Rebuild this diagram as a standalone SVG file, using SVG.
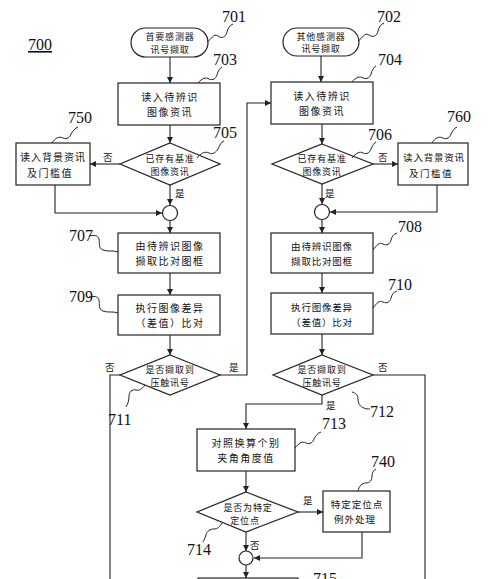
<svg xmlns="http://www.w3.org/2000/svg" width="500" height="579" viewBox="0 0 500 579">
<defs>
<marker id="ah" viewBox="0 0 8 8" refX="8" refY="4" markerWidth="6" markerHeight="6" markerUnits="userSpaceOnUse" orient="auto">
<path d="M0,0 L8,4 L0,8 z" fill="#222"/>
</marker>
<style>
.s{fill:#fff;stroke:#222;stroke-width:1.2}
.c{fill:none;stroke:#222;stroke-width:1.1}
.w{fill:none;stroke:#222;stroke-width:1}
.t{font-family:"Noto Sans CJK SC","Noto Sans CJK JP",sans-serif;font-size:10px;fill:#111;text-anchor:middle;letter-spacing:1.5px}
.d{font-family:"Noto Sans CJK SC","Noto Sans CJK JP",sans-serif;font-size:9px;fill:#111;text-anchor:middle;letter-spacing:0.8px}
.y{font-family:"Noto Sans CJK SC","Noto Sans CJK JP",sans-serif;font-size:9.5px;fill:#111}
.n{font-family:"Liberation Serif",serif;font-size:16px;fill:#111}
</style>
</defs>
<rect width="500" height="579" fill="#fff"/>
<text class="n" x="28" y="50" text-decoration="underline">700</text>

<g id="connectors">
<path class="c" d="M170,57 V83" marker-end="url(#ah)"/>
<path class="c" d="M170,125 V143" marker-end="url(#ah)"/>
<path class="c" d="M120,164 H90" marker-end="url(#ah)"/>
<path class="c" d="M55,185 V213 H162" marker-end="url(#ah)"/>
<path class="c" d="M170,185 V205" marker-end="url(#ah)"/>
<path class="c" d="M170,220 V233" marker-end="url(#ah)"/>
<path class="c" d="M170,273 V295" marker-end="url(#ah)"/>
<path class="c" d="M170,335 V355" marker-end="url(#ah)"/>
<path class="c" d="M120,375 H110 V579"/>
<path class="c" d="M220,375 H247 V103 H271" marker-end="url(#ah)"/>
<path class="c" d="M321,56 V82" marker-end="url(#ah)"/>
<path class="c" d="M322,124 V144" marker-end="url(#ah)"/>
<path class="c" d="M373,164 H398" marker-end="url(#ah)"/>
<path class="c" d="M437,185 V212 H330" marker-end="url(#ah)"/>
<path class="c" d="M322,184 V204" marker-end="url(#ah)"/>
<path class="c" d="M322,220 V233" marker-end="url(#ah)"/>
<path class="c" d="M322,273 V293" marker-end="url(#ah)"/>
<path class="c" d="M322,334 V355" marker-end="url(#ah)"/>
<path class="c" d="M373,375 H425 V579"/>
<path class="c" d="M322,395 V404 H246 V429" marker-end="url(#ah)"/>
<path class="c" d="M246,471 V492" marker-end="url(#ah)"/>
<path class="c" d="M298,512 H323" marker-end="url(#ah)"/>
<path class="c" d="M246,532 V551" marker-end="url(#ah)"/>
<path class="c" d="M362,532 V558 H254" marker-end="url(#ah)"/>
<path class="c" d="M246,565 V578" marker-end="url(#ah)"/>
<text class="y" x="103" y="161">否</text>
<text class="y" x="175" y="197">是</text>
<text class="y" x="378" y="161">否</text>
<text class="y" x="325" y="197">是</text>
<text class="y" x="105" y="371">否</text>
<text class="y" x="229" y="371">是</text>
<text class="y" x="378" y="371">否</text>
<text class="y" x="326" y="409">是</text>
<text class="y" x="303" y="504">是</text>
<text class="y" x="250" y="549">否</text>
</g>

<g id="n701">
<rect class="s" x="131" y="28" width="77" height="29" rx="14.5"/>
<text class="d" x="170" y="40">首要感测器</text>
<text class="d" x="170" y="53">讯号撷取</text>
<path class="w" d="M207,42 c5,-3 6,-9 11,-6 c4,3 8,1 9,-4 c1,-4 3,-7 6,-8"/>
<text class="n" x="222" y="22">701</text>
</g>
<g id="n702">
<rect class="s" x="283" y="28" width="76" height="28" rx="14"/>
<text class="d" x="321" y="40">其他感测器</text>
<text class="d" x="321" y="52">讯号撷取</text>
<path class="w" d="M358,41 c5,-3 6,-9 11,-6 c4,3 8,1 9,-4 c1,-4 3,-7 6,-8"/>
<text class="n" x="377" y="22">702</text>
</g>
<g id="n703">
<rect class="s" x="118" y="83" width="102" height="42"/>
<text class="t" x="170" y="101">读入待辨识</text>
<text class="t" x="170" y="116">图像资讯</text>
<path class="w" d="M198,83 c4,-5 8,-6 11,-4 c4,2 7,-1 8,-4 c1,-4 3,-7 5,-8"/>
<text class="n" x="213" y="65">703</text>
</g>
<g id="n704">
<rect class="s" x="271" y="82" width="102" height="42"/>
<text class="t" x="322" y="100">读入待辨识</text>
<text class="t" x="322" y="115">图像资讯</text>
<path class="w" d="M352,82 c4,-5 8,-6 11,-4 c4,2 7,-1 8,-4 c1,-4 3,-7 5,-8"/>
<text class="n" x="378" y="65">704</text>
</g>
<g id="n705">
<polygon class="s" points="170,143 220,164 170,185 120,164"/>
<text class="d" x="170" y="162">已存有基准</text>
<text class="d" x="170" y="175">图像资讯</text>
<path class="w" d="M197,158 c4,-5 8,-7 12,-5 c4,2 7,-1 9,-4 c2,-4 3,-7 6,-8"/>
<text class="n" x="213" y="138">705</text>
</g>
<g id="n706">
<polygon class="s" points="322,144 373,164 322,184 272,164"/>
<text class="d" x="322" y="162">已存有基准</text>
<text class="d" x="322" y="175">图像资讯</text>
<path class="w" d="M352,158 c4,-5 8,-7 11,-5 c4,2 7,-1 8,-4 c2,-4 3,-6 5,-7"/>
<text class="n" x="368" y="140">706</text>
</g>
<g id="n750">
<rect class="s" x="16" y="143" width="74" height="42"/>
<text class="t" x="53" y="161" style="letter-spacing:1px">读入背景资讯</text>
<text class="t" x="50" y="177">及门槛值</text>
<path class="w" d="M52,143 c3,-5 7,-7 11,-5 c4,2 7,-1 8,-4 c2,-3 4,-6 7,-7"/>
<text class="n" x="68" y="123">750</text>
</g>
<g id="n760">
<rect class="s" x="398" y="143" width="70" height="42"/>
<text class="t" x="434" y="161" style="font-size:9.5px;letter-spacing:0.8px">读入背景资讯</text>
<text class="t" x="431" y="177" style="font-size:9.5px">及门槛值</text>
<path class="w" d="M432,143 c3,-5 7,-7 11,-5 c4,2 7,-1 8,-4 c2,-3 3,-6 6,-7"/>
<text class="n" x="447" y="122">760</text>
</g>
<g id="j1">
<circle class="s" cx="170" cy="213" r="7.5"/>
</g>
<g id="j2">
<circle class="s" cx="322" cy="212" r="7.5"/>
</g>
<g id="n707">
<rect class="s" x="118" y="233" width="102" height="40"/>
<text class="t" x="170" y="250">由待辨识图像</text>
<text class="t" x="170" y="265">撷取比对图框</text>
<path class="w" d="M89,236 c5,-1 9,-1 10,3 c1,5 -1,9 4,11 c5,2 10,0 15,2"/>
<text class="n" x="69" y="241">707</text>
</g>
<g id="n708">
<rect class="s" x="271" y="233" width="102" height="40"/>
<text class="t" x="322" y="250" style="font-size:9.5px;letter-spacing:0.8px">由待辨识图像</text>
<text class="t" x="322" y="265" style="font-size:9.5px;letter-spacing:0.8px">撷取比对图框</text>
<path class="w" d="M373,250 c4,-5 6,-8 10,-6 c4,2 7,0 8,-4 c1,-4 3,-6 6,-7"/>
<text class="n" x="398" y="232">708</text>
</g>
<g id="n709">
<rect class="s" x="118" y="295" width="102" height="40"/>
<text class="t" x="170" y="312">执行图像差异</text>
<text class="t" x="170" y="327">（差值）比对</text>
<path class="w" d="M89,297 c5,-1 9,-1 10,3 c1,5 -1,9 4,11 c5,2 10,0 15,2"/>
<text class="n" x="69" y="302">709</text>
</g>
<g id="n710">
<rect class="s" x="271" y="293" width="102" height="41"/>
<text class="t" x="322" y="311" style="font-size:9.5px;letter-spacing:0.8px">执行图像差异</text>
<text class="t" x="322" y="326" style="font-size:9.5px;letter-spacing:0.8px">（差值）比对</text>
<path class="w" d="M373,308 c4,-5 6,-8 10,-6 c4,2 7,0 8,-4 c1,-4 3,-6 6,-7"/>
<text class="n" x="388" y="290">710</text>
</g>
<g id="n711">
<polygon class="s" points="170,355 220,375 170,395 120,375"/>
<text class="d" x="170" y="373">是否撷取到</text>
<text class="d" x="170" y="386">压触讯号</text>
<path class="w" d="M145,385 c-3,4 -6,6 -9,5 c-4,-1 -7,2 -7,6 c0,4 -1,8 -3,11"/>
<text class="n" x="108" y="425">711</text>
</g>
<g id="n712">
<polygon class="s" points="322,355 373,375 322,395 273,375"/>
<text class="d" x="322" y="373">是否撷取到</text>
<text class="d" x="322" y="386">压触讯号</text>
<path class="w" d="M352,392 c4,1 6,3 6,7 c0,4 2,8 6,9 c2,1 4,1 6,1"/>
<text class="n" x="370" y="417">712</text>
</g>
<g id="n713">
<rect class="s" x="197" y="429" width="98" height="42"/>
<text class="t" x="246" y="447">对照换算个别</text>
<text class="t" x="246" y="462">夹角角度值</text>
<path class="w" d="M295,448 c4,-5 7,-7 11,-5 c4,2 7,-1 8,-4 c2,-4 4,-6 7,-7"/>
<text class="n" x="322" y="429">713</text>
</g>
<g id="n714">
<polygon class="s" points="246,492 298,512 246,532 197,512"/>
<text class="d" x="248" y="511">是否为特定</text>
<text class="d" x="245" y="524">定位点</text>
<path class="w" d="M222,523 c-2,4 -5,6 -8,6 c-4,0 -7,2 -8,6 c-1,3 -2,5 -3,7"/>
<text class="n" x="187" y="555">714</text>
</g>
<g id="n740">
<rect class="s" x="323" y="491" width="67" height="41"/>
<text class="t" x="357" y="508" style="font-size:9.5px;letter-spacing:1px">特定定位点</text>
<text class="t" x="355" y="523" style="font-size:9.5px;letter-spacing:1px">例外处理</text>
<path class="w" d="M358,491 c1,-5 4,-8 8,-8 c4,0 6,-3 6,-7 c0,-4 2,-6 4,-7"/>
<text class="n" x="371" y="467">740</text>
</g>
<g id="j3">
<circle class="s" cx="246" cy="558" r="7"/>
</g>
<g id="n715">
<rect class="s" x="198" y="578" width="100" height="30"/>
<text class="n" x="313" y="584">715</text>
</g>
</svg>
